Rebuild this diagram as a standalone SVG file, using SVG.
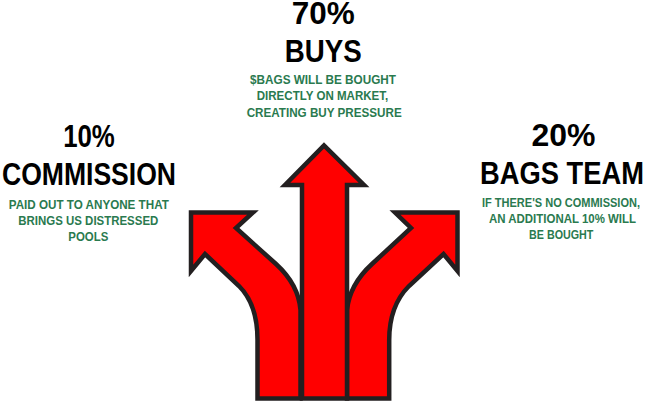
<svg xmlns="http://www.w3.org/2000/svg" width="648" height="402" viewBox="0 0 648 402">
<style>
.arrow{fill:#ff0000;stroke:#231f20;stroke-width:4.5;stroke-linejoin:miter;stroke-miterlimit:10}
.h{font-family:"Liberation Sans",Arial,sans-serif;font-weight:bold;font-size:31px;fill:#000;text-anchor:middle}
.g{font-family:"Liberation Sans",Arial,sans-serif;font-weight:bold;font-size:12.5px;fill:#2a7a4f;text-anchor:middle}
</style>
<rect width="648" height="402" fill="#fff"/>
<g id="connectors">
<path id="arrow-left" class="arrow" d="M191,212.5 L253,212.5 L236,228 L276,264 C288,275 299,290 300.5,310 L300.5,398.5 L257.5,398.5 L257.5,340 C257.5,315 250,297 239,286 L205,254 L191,271 Z"/>
<path id="arrow-right" class="arrow" d="M457.5,212.5 L395,212.5 L411,228 L372,264 C360,275 349,290 347,310 L347,398.5 L389.2,398.5 L389.2,340 C389.2,315 398,297 409,286 L443.5,254 L457.5,271 Z"/>
<path id="arrow-center" class="arrow" d="M302,398.5 L302,185 L285,185 L324,145.5 L364,185 L347,185 L347,398.5 Z"/>
</g>
<g id="node-buys">
<text class="h" transform="translate(323.3,24) scale(1,1.1)" x="0" y="0" style="font-size:28px" textLength="63" lengthAdjust="spacingAndGlyphs">70%</text>
<text class="h" x="323.3" y="61.7" textLength="77" lengthAdjust="spacingAndGlyphs">BUYS</text>
<text class="g" x="323" y="83.7" textLength="146" lengthAdjust="spacingAndGlyphs">$BAGS WILL BE BOUGHT</text>
<text class="g" x="322.5" y="100.2" textLength="131.6" lengthAdjust="spacingAndGlyphs">DIRECTLY ON MARKET,</text>
<text class="g" x="324.2" y="116.7" textLength="155" lengthAdjust="spacingAndGlyphs">CREATING BUY PRESSURE</text>
</g>
<g id="node-commission">
<text class="h" x="89" y="146.7" textLength="51.7" lengthAdjust="spacingAndGlyphs">10%</text>
<text class="h" x="89" y="185" textLength="174" lengthAdjust="spacingAndGlyphs">COMMISSION</text>
<text class="g" x="88.8" y="209" textLength="160" lengthAdjust="spacingAndGlyphs">PAID OUT TO ANYONE THAT</text>
<text class="g" x="88.3" y="225" textLength="140" lengthAdjust="spacingAndGlyphs">BRINGS US DISTRESSED</text>
<text class="g" x="88.3" y="240.7" textLength="40" lengthAdjust="spacingAndGlyphs">POOLS</text>
</g>
<g id="node-team">
<text class="h" x="563.5" y="145.7" textLength="64" lengthAdjust="spacingAndGlyphs">20%</text>
<text class="h" transform="translate(562,183.5) scale(1,1.13)" x="0" y="0" style="font-size:27.3px" textLength="164" lengthAdjust="spacingAndGlyphs">BAGS TEAM</text>
<text class="g" transform="translate(561,206.7) scale(1,1.14)" x="0" y="0" style="font-size:11px" textLength="158" lengthAdjust="spacingAndGlyphs">IF THERE'S NO COMMISSION,</text>
<text class="g" x="562.5" y="223.3" textLength="147" lengthAdjust="spacingAndGlyphs">AN ADDITIONAL 10% WILL</text>
<text class="g" x="561.2" y="239" textLength="64.3" lengthAdjust="spacingAndGlyphs">BE BOUGHT</text>
</g>
</svg>
